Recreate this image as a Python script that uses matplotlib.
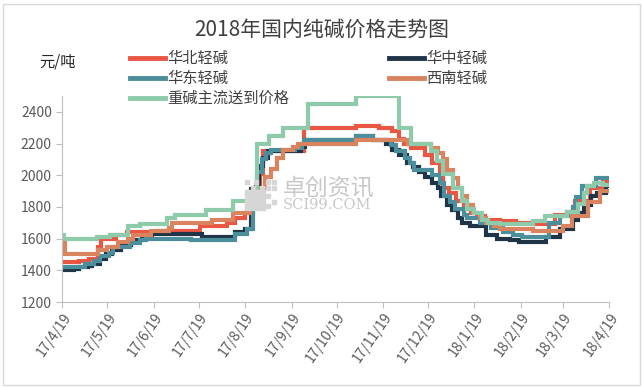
import numpy as np
import pandas as pd
import matplotlib as mpl
mpl.use("Agg")
import matplotlib.pyplot as plt
from matplotlib.patches import Rectangle

# MPL settings.
plt.rcParams['font.family'] = ['Noto Sans CJK SC', 'DejaVu Sans']

title = "2018年国内纯碱价格走势图"
unit = "元/吨"

# Step series: (date the price takes effect, price)
huabei_dates = ["2017-04-19", "2017-04-30", "2017-05-07", "2017-05-13", "2017-05-15", "2017-05-25",
                "2017-06-01", "2017-06-21", "2017-07-20", "2017-08-07", "2017-08-12", "2017-08-19",
                "2017-08-24", "2017-08-29", "2017-08-31", "2017-09-27", "2017-11-01", "2017-11-16",
                "2017-11-25", "2017-11-30", "2017-12-03", "2017-12-08", "2017-12-17", "2017-12-22",
                "2017-12-27", "2017-12-29", "2018-01-02", "2018-01-07", "2018-01-12", "2018-01-17",
                "2018-01-21", "2018-01-26", "2018-02-05", "2018-02-16", "2018-02-27", "2018-03-14",
                "2018-03-22", "2018-03-27", "2018-04-06", "2018-04-15", "2018-04-19"]
huabei = [1450, 1460, 1470, 1550, 1600, 1620,
          1640, 1650, 1680, 1700, 1730, 1760,
          1820, 2010, 2150, 2300, 2310, 2300,
          2280, 2230, 2200, 2170, 2130, 2080,
          2020, 1920, 1890, 1840, 1790, 1760,
          1740, 1720, 1710, 1700, 1690, 1750,
          1770, 1840, 1920, 1960, 1960]

huazhong_dates = ["2017-04-19", "2017-04-27", "2017-04-30", "2017-05-06", "2017-05-09", "2017-05-14",
                  "2017-05-18", "2017-05-22", "2017-05-28", "2017-06-04", "2017-06-11", "2017-06-18",
                  "2017-07-21", "2017-08-12", "2017-08-19", "2017-08-23", "2017-08-26", "2017-08-28",
                  "2017-08-31", "2017-09-03", "2017-09-25", "2017-09-28", "2017-11-01", "2017-11-12",
                  "2017-11-21", "2017-11-25", "2017-11-30", "2017-12-05", "2017-12-09", "2017-12-13",
                  "2017-12-17", "2017-12-22", "2017-12-26", "2017-12-28", "2018-01-01", "2018-01-04",
                  "2018-01-08", "2018-01-11", "2018-01-16", "2018-01-27", "2018-02-03", "2018-02-12",
                  "2018-02-18", "2018-03-08", "2018-03-17", "2018-03-26", "2018-03-29", "2018-04-02",
                  "2018-04-07", "2018-04-11", "2018-04-17", "2018-04-19"]
huazhong = [1400, 1410, 1420, 1430, 1440, 1470,
            1500, 1530, 1560, 1590, 1610, 1630,
            1610, 1640, 1660, 1910, 1940, 2060,
            2110, 2150, 2180, 2220, 2250, 2220,
            2200, 2160, 2130, 2080, 2050, 2020,
            1990, 1950, 1920, 1870, 1810, 1780,
            1730, 1700, 1680, 1620, 1600, 1590,
            1580, 1610, 1660, 1720, 1760, 1810,
            1870, 1890, 1930, 1930]

huadong_dates = ["2017-04-19", "2017-05-04", "2017-05-10", "2017-05-14", "2017-05-20", "2017-05-23",
                 "2017-06-03", "2017-06-10", "2017-06-14", "2017-07-14", "2017-08-12", "2017-08-20",
                 "2017-08-24", "2017-08-27", "2017-08-30", "2017-09-02", "2017-09-05", "2017-09-21",
                 "2017-09-26", "2017-09-27", "2017-11-01", "2017-11-12", "2017-11-24", "2017-11-28",
                 "2017-12-04", "2017-12-07", "2017-12-10", "2017-12-22", "2017-12-27", "2017-12-30",
                 "2018-01-03", "2018-01-06", "2018-01-12", "2018-01-14", "2018-01-23", "2018-01-30",
                 "2018-02-07", "2018-02-14", "2018-02-20", "2018-03-10", "2018-03-17", "2018-03-26",
                 "2018-03-28", "2018-04-01", "2018-04-10", "2018-04-19"]
huadong = [1420, 1440, 1460, 1490, 1510, 1550,
           1570, 1590, 1600, 1590, 1630, 1660,
           1890, 2020, 2100, 2140, 2160, 2170,
           2200, 2220, 2250, 2220, 2190, 2150,
           2110, 2080, 2030, 2000, 1950, 1870,
           1830, 1790, 1750, 1730, 1700, 1670,
           1640, 1620, 1610, 1700, 1740, 1800,
           1860, 1930, 1980, 1980]

xinan_dates = ["2017-04-19", "2017-04-21", "2017-05-13", "2017-05-19", "2017-05-26", "2017-06-02",
               "2017-06-05", "2017-06-17", "2017-06-29", "2017-07-01", "2017-07-28", "2017-08-11",
               "2017-08-22", "2017-08-26", "2017-08-29", "2017-09-01", "2017-09-05", "2017-09-09",
               "2017-09-13", "2017-09-20", "2017-09-23", "2017-11-01", "2017-12-06", "2017-12-21",
               "2017-12-26", "2017-12-29", "2018-01-01", "2018-01-05", "2018-01-08", "2018-01-11",
               "2018-01-14", "2018-01-18", "2018-01-23", "2018-01-27", "2018-02-01", "2018-02-05",
               "2018-02-27", "2018-03-19", "2018-03-25", "2018-04-05", "2018-04-13", "2018-04-19"]
xinan = [1600, 1500, 1530, 1550, 1580, 1600,
         1620, 1650, 1670, 1700, 1720, 1760,
         1820, 1865, 1920, 1990, 2040, 2110,
         2160, 2180, 2200, 2220, 2200, 2170,
         2140, 2100, 2030, 1980, 1920, 1870,
         1810, 1760, 1730, 1700, 1680, 1660,
         1650, 1680, 1740, 1830, 1900, 1900]

zhongjian_dates = ["2017-04-19", "2017-04-20", "2017-05-12", "2017-05-21", "2017-06-02", "2017-06-10",
                   "2017-06-28", "2017-07-03", "2017-07-24", "2017-08-11", "2017-08-24", "2017-08-27",
                   "2017-09-04", "2017-09-13", "2017-09-30", "2017-11-01", "2017-11-30", "2017-12-08",
                   "2017-12-21", "2017-12-25", "2017-12-29", "2018-01-05", "2018-01-11", "2018-01-14",
                   "2018-01-19", "2018-01-24", "2018-01-28", "2018-02-05", "2018-02-27", "2018-03-07",
                   "2018-03-22", "2018-03-29", "2018-04-02", "2018-04-04", "2018-04-09", "2018-04-15",
                   "2018-04-19"]
zhongjian = [1620, 1600, 1610, 1620, 1680, 1690,
             1730, 1750, 1780, 1840, 1900, 2200,
             2250, 2300, 2450, 2500, 2300, 2200,
             2150, 2090, 2010, 1920, 1840, 1790,
             1760, 1720, 1700, 1690, 1710, 1740,
             1770, 1820, 1890, 1930, 1950, 1940,
             1940]

series_names = ["华北轻碱", "华中轻碱", "华东轻碱", "西南轻碱", "重碱主流送到价格"]
series_colors = ["#EA5644", "#1F3447", "#4B8E9C", "#D9835F", "#8DCBAB"]

tick_dates = ["2017-04-19", "2017-05-19", "2017-06-19", "2017-07-19", "2017-08-19", "2017-09-19",
              "2017-10-19", "2017-11-19", "2017-12-19", "2018-01-19", "2018-02-19", "2018-03-19",
              "2018-04-19"]
tick_labels = ["17/4/19", "17/5/19", "17/6/19", "17/7/19", "17/8/19", "17/9/19", "17/10/19",
               "17/11/19", "17/12/19", "18/1/19", "18/2/19", "18/3/19", "18/4/19"]
y_ticks = [1200, 1400, 1600, 1800, 2000, 2200, 2400]

all_series = [(huabei_dates, huabei), (huazhong_dates, huazhong), (huadong_dates, huadong),
              (xinan_dates, xinan), (zhongjian_dates, zhongjian)]

fig = plt.figure(figsize=(6.44, 3.88), dpi=100)
ax = fig.add_axes([62.3 / 644, 1 - 302 / 388, (609.3 - 62.3) / 644, (302 - 96) / 388])

# Outer border
fig.patches.append(Rectangle((3 / 644, 3 / 388), 637 / 644, 381 / 388, transform=fig.transFigure,
                             fill=False, edgecolor="#d9d9d9", linewidth=1))

# Watermark logo: solid block bottom-left, dotted squares top-right
fig.patches.append(Rectangle((245 / 644, 1 - 210 / 388), 20 / 644, 20 / 388,
                             transform=fig.transFigure, color="#d6d6d6", zorder=0))
for (px, py) in [(266, 180), (272, 180), (266, 186), (272, 186), (254, 180), (260, 186),
                 (266, 194), (272, 200), (266, 204), (245, 180), (251, 186)]:
  fig.patches.append(Rectangle((px / 644, 1 - (py + 4) / 388), 4 / 644, 4 / 388,
                               transform=fig.transFigure, color="#d6d6d6", zorder=0))
fig.text(283 / 644, 1 - 188 / 388, "卓创资讯", fontsize=16.5, color="#c8c8c8", va="center", ha="left", zorder=0)
fig.text(283 / 644, 1 - 205 / 388, "SCI99.COM", fontsize=10.5, color="#c8c8c8", va="center", ha="left",
         family="DejaVu Serif", zorder=0)
ax.patch.set_alpha(0)

handles = []
for (dates, values), name, color in zip(all_series, series_names, series_colors):
  line, = ax.step(pd.to_datetime(dates), values, where="post", color=color, linewidth=3.0,
                  label=name, solid_joinstyle="miter")
  handles.append(line)

ax.set_xlim(pd.Timestamp(tick_dates[0]), pd.Timestamp(tick_dates[-1]))
ax.set_ylim(1200, 2500)
ax.set_yticks(y_ticks)
ax.set_xticks(pd.to_datetime(tick_dates))
ax.set_xticklabels(tick_labels, rotation=55, ha="right", rotation_mode="anchor")

for s in ["top", "right"]:
  ax.spines[s].set_visible(False)
for s in ["left", "bottom"]:
  ax.spines[s].set_color("#bfbfbf")
ax.tick_params(axis="both", colors="#bfbfbf", length=4, labelcolor="#595959", labelsize=10)
ax.tick_params(axis="x", pad=2)

fig.text(322 / 644, 1 - 30 / 388, title, fontsize=15, color="#404040", ha="center", va="center")
fig.text(58 / 644, 1 - 62 / 388, unit, fontsize=11, color="#262626", ha="center", va="center")

order = [0, 2, 4, 1, 3]
leg_handles = [plt.Line2D([], [], color=series_colors[i], linewidth=3.5) for i in order]
fig.legend(leg_handles, [series_names[i] for i in order], ncol=2, frameon=False,
           loc="upper left", bbox_to_anchor=(130 / 644, 1 - 50 / 388), borderaxespad=0, borderpad=0,
           handlelength=2.3, handletextpad=0.15, labelspacing=0.2, columnspacing=6.5,
           prop={"size": 11}, labelcolor="#404040")

fig.savefig("out.png", dpi=100)
